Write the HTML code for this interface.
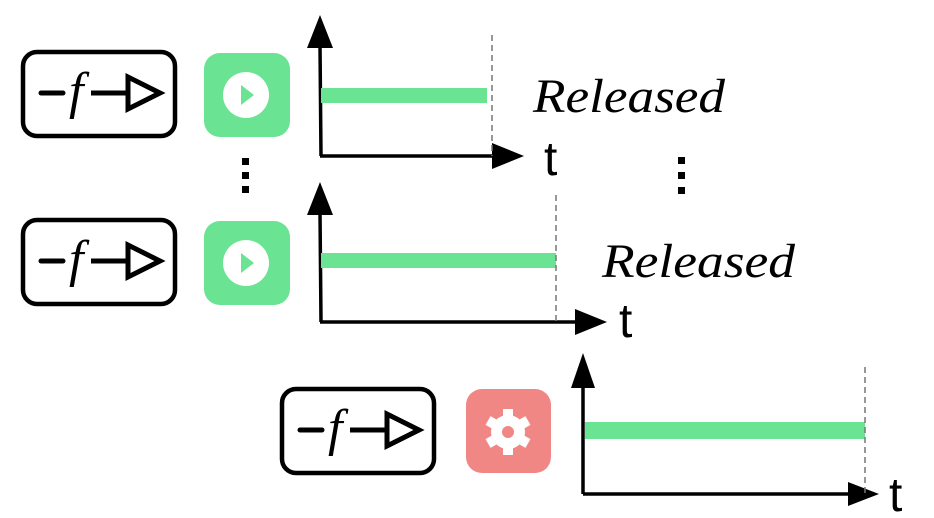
<!DOCTYPE html>
<html><head><meta charset="utf-8"><style>
html,body{margin:0;padding:0;background:#fff;width:934px;height:518px;overflow:hidden}
svg{display:block}
</style></head><body>
<svg width="934" height="518" viewBox="0 0 934 518" xmlns="http://www.w3.org/2000/svg">
<defs>
<g id="fbox">
<rect x="0" y="0" width="152" height="84" rx="14" fill="#fff" stroke="#000" stroke-width="4.5"/>
<line x1="18" y1="41" x2="40" y2="41" stroke="#000" stroke-width="5" stroke-linecap="round"/>
<text x="46" y="56" font-family="Liberation Serif, DejaVu Serif, serif" font-style="italic" font-size="52" fill="#000">f</text>
<line x1="68" y1="41" x2="105" y2="41" stroke="#000" stroke-width="5"/>
<polygon points="105,25 105,57 137,41" fill="#fff" stroke="#000" stroke-width="5" stroke-linejoin="miter"/>
</g>
<g id="play">
<rect x="0" y="0" width="86" height="84" rx="16" fill="#6ae392"/>
<ellipse cx="42" cy="42" rx="23" ry="23" fill="#fff"/>
<polygon points="37,32 37,52 50,42" fill="#6ae392"/>
</g>
</defs>

<use href="#fbox" x="23" y="52"/>
<use href="#play" x="204" y="53"/>
<line x1="320" y1="45" x2="321" y2="156" stroke="#000" stroke-width="3.5"/>
<polygon points="307,48 333,48 320,15" fill="#000"/>
<line x1="320" y1="156" x2="495" y2="156" stroke="#000" stroke-width="3.5"/>
<polygon points="492,143 492,169 524,156" fill="#000"/>
<rect x="321" y="88" width="166" height="15" fill="#6ae392"/>
<line x1="492" y1="35" x2="492" y2="156" stroke="#777" stroke-width="1.5" stroke-dasharray="6,4"/>
<text x="544" y="175" font-family="Liberation Sans, Arial, sans-serif" font-size="48" fill="#000">t</text>
<text x="533" y="112" font-family="Liberation Serif, DejaVu Serif, serif" font-style="italic" font-size="48" fill="#000" textLength="192" lengthAdjust="spacingAndGlyphs">Released</text>

<rect x="242" y="158" width="7" height="7" fill="#000"/>
<rect x="242" y="172" width="7" height="7" fill="#000"/>
<rect x="242" y="186" width="7" height="7" fill="#000"/>
<rect x="678" y="157" width="7" height="7" fill="#000"/>
<rect x="678" y="172" width="7" height="7" fill="#000"/>
<rect x="678" y="187" width="7" height="7" fill="#000"/>

<use href="#fbox" x="23" y="220"/>
<use href="#play" x="204" y="221"/>
<line x1="320" y1="212" x2="321" y2="322" stroke="#000" stroke-width="3.5"/>
<polygon points="307,215 333,215 320,182" fill="#000"/>
<line x1="320" y1="322" x2="578" y2="322" stroke="#000" stroke-width="3.5"/>
<polygon points="575,309 575,335 607,322" fill="#000"/>
<rect x="321" y="253" width="235" height="15" fill="#6ae392"/>
<line x1="556" y1="195" x2="556" y2="322" stroke="#777" stroke-width="1.5" stroke-dasharray="6,4"/>
<text x="619" y="337" font-family="Liberation Sans, Arial, sans-serif" font-size="48" fill="#000">t</text>
<text x="602" y="277" font-family="Liberation Serif, DejaVu Serif, serif" font-style="italic" font-size="48" fill="#000" textLength="193" lengthAdjust="spacingAndGlyphs">Released</text>

<use href="#fbox" x="282" y="389"/>
<rect x="466" y="389" width="85" height="84" rx="16" fill="#f08785"/>
<g transform="translate(508,432)" fill="#fff">
<rect x="-5" y="-23" width="10" height="12"/>
<rect x="-5" y="-23" width="10" height="12" transform="rotate(60)"/>
<rect x="-5" y="-23" width="10" height="12" transform="rotate(120)"/>
<rect x="-5" y="-23" width="10" height="12" transform="rotate(180)"/>
<rect x="-5" y="-23" width="10" height="12" transform="rotate(240)"/>
<rect x="-5" y="-23" width="10" height="12" transform="rotate(300)"/>
<circle r="17"/>
<circle r="6" fill="#f08785"/>
</g>
<line x1="583" y1="385" x2="583" y2="494" stroke="#000" stroke-width="3.5"/>
<polygon points="571,388 595,388 583,353" fill="#000"/>
<line x1="583" y1="494" x2="850" y2="494" stroke="#000" stroke-width="3.5"/>
<polygon points="848,482 848,506 879,494" fill="#000"/>
<rect x="585" y="422" width="280" height="17" fill="#6ae392"/>
<line x1="865" y1="367" x2="865" y2="494" stroke="#777" stroke-width="1.5" stroke-dasharray="6,4"/>
<text x="889" y="511" font-family="Liberation Sans, Arial, sans-serif" font-size="48" fill="#000">t</text>
</svg>
</body></html>
